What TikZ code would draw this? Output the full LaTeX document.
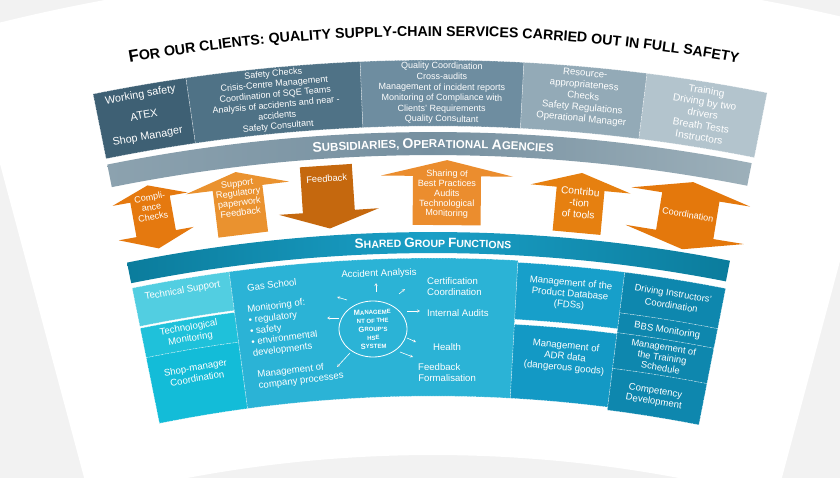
\documentclass[tikz,border=0pt]{standalone}
\usepackage{fontspec}
\setmainfont{Liberation Sans}
\usetikzlibrary{decorations.text,calc,arrows.meta,shapes.geometric}

\definecolor{bgc}{HTML}{F2F2F2}
\definecolor{tA}{HTML}{3E6074}
\definecolor{tB}{HTML}{4F7286}
\definecolor{tC}{HTML}{6E8DA0}
\definecolor{tD}{HTML}{93AAB7}
\definecolor{tE}{HTML}{B3C4CD}
\definecolor{gL}{HTML}{8CA2AF}
\definecolor{gM}{HTML}{7690A0}
\definecolor{gR}{HTML}{9DB0BA}
\definecolor{sE}{HTML}{0B7C9C}
\definecolor{sM}{HTML}{1A9FC6}
\definecolor{lA}{HTML}{52CEE1}
\definecolor{lB}{HTML}{1FC1DA}
\definecolor{lC}{HTML}{13BCD8}
\definecolor{cM}{HTML}{2BB3D6}
\definecolor{fA}{HTML}{179FCA}
\definecolor{fB}{HTML}{1399C5}
\definecolor{rA}{HTML}{0E87AE}
\definecolor{oA}{HTML}{E5790F}
\definecolor{oB}{HTML}{EA922F}
\definecolor{oC}{HTML}{C5680E}
\definecolor{oD}{HTML}{EB8D2E}
\definecolor{oE}{HTML}{E68010}
\definecolor{oF}{HTML}{E4780C}

\newcommand\fansect[5]{\path[#1] ($(C)+({90-(#2)}:#5)$) arc[start angle={90-(#2)}, end angle={90-(#3)}, radius=#5] -- ($(C)+({90-(#3)}:#4)$) arc[start angle={90-(#3)}, end angle={90-(#2)}, radius=#4] -- cycle;}
\newcommand\polnode[5][]{\node[txt,#1,rotate={-(#3)}] (#2) at ($(C)+({90-(#3)}:#4)$) {#5};}
\newcommand\pxnode[5][]{\node[txt,#1,rotate={atan((433-(#3))/(1780-(#4)))}] (#2) at (#3,-#4) {#5};}
\newcommand\tbig{\bfseries\fontsize{17}{17}\selectfont}
\newcommand\tsml{\bfseries\fontsize{14.2}{15}\selectfont}
\newcommand\sbig{\bfseries\fontsize{14}{14}\selectfont}
\newcommand\ssml{\bfseries\fontsize{11.5}{12}\selectfont}
\newcommand\gbig{\bfseries\fontsize{13.5}{14}\selectfont}
\newcommand\gsml{\bfseries\fontsize{10.5}{11}\selectfont}
\newcommand\hbc[1]{{\fontsize{7.5}{7.5}\selectfont #1}}

\tikzset{
  txt/.style={inner sep=0pt, text=white, align=center, font=\fontsize{9.6}{11}\selectfont},
  dense/.style={font=\fontsize{9}{10.6}\selectfont},
  box/.style={draw=white, densely dotted, line width=0.5pt},
  hsear/.style={draw=white, line width=0.6pt, -{Stealth[length=3pt,width=3pt]}}
}

\begin{document}
\begin{tikzpicture}[x=1pt,y=1pt]
\useasboundingbox (0,0) rectangle (840,-478);
\coordinate (C) at (433,-1780);
\fill[bgc] (0,0) rectangle (840,-478);
\fansect{fill=white}{-15}{15}{1325}{1810}

% title
\path[decorate, decoration={text along path, text align=center,
  text={|\tbig|F|\tsml|OR OUR CLIENTS: QUALITY SUPPLY-CHAIN SERVICES CARRIED OUT IN FULL SAFETY}}]
  ($(C)+(112:1744)$) arc[start angle=112, end angle=68, radius=1744];

% top boxes
\fansect{box,fill=tA}{-11.4}{-8.26}{1654}{1720}
\fansect{box,fill=tB}{-8.26}{-2.43}{1654}{1720}
\fansect{box,fill=tC}{-2.43}{3.03}{1654}{1720}
\fansect{box,fill=tD}{3.03}{7.15}{1654}{1720}
\fansect{box,fill=tE}{7.15}{11.2}{1654}{1720}

\polnode[font=\fontsize{10.8}{21}\selectfont]{t1}{-9.85}{1689}{Working safety\\ATEX\\Shop Manager}
\polnode[dense]{t2}{-5.35}{1687}{Safety Checks\\Crisis-Centre Management\\Coordination of SQE Teams\\Analysis of accidents and near -\\accidents\\Safety Consultant}
\polnode[dense]{t3}{0.3}{1687}{Quality Coordination\\Cross-audits\\Management of incident reports\\Monitoring of Compliance with\\Clients' Requirements\\Quality Consultant}
\polnode[font=\fontsize{9.6}{11.4}\selectfont]{t4}{5.1}{1690}{Resource-\\appropriateness\\Checks\\Safety Regulations\\Operational Manager}
\polnode[font=\fontsize{10.2}{11.8}\selectfont]{t5}{9.2}{1688}{Training\\Driving by two\\drivers\\Breath Tests\\Instructors}

% grey band
\fansect{left color=gL, right color=gR, middle color=gM}{-11.4}{11.15}{1625}{1648}
\path[decorate, decoration={text along path, text align=center, text color=white,
  text={|\sbig|S|\ssml|UBSIDIARIES, |\sbig|O|\ssml|PERATIONAL |\sbig|A|\ssml|GENCIES}}]
  ($(C)+(100:1632)$) arc[start angle=100, end angle=80, radius=1632];

% shared band
\fansect{left color=sE, right color=sE, middle color=sM}{-11.4}{11.06}{1527}{1548}
\path[decorate, decoration={text along path, text align=center, text color=white,
  text={|\gbig|S|\gsml|HARED |\gbig|G|\gsml|ROUP |\gbig|F|\gsml|UNCTIONS}}]
  ($(C)+(98:1533)$) arc[start angle=98, end angle=82, radius=1533];

% arrows
\begin{scope}[shift={(C)}, rotate=10.15]
\fill[oA] (-20,1571) -- (-38,1571) -- (0,1556) -- (38,1571) -- (20,1571) -- (20,1606) -- (38,1606) -- (0,1620) -- (-38,1606) -- (-20,1606) -- cycle;
\node[txt, transform shape, font=\fontsize{9}{10}\selectfont] (ar1) at (0,1598) {Compli-\\ance\\Checks};
\end{scope}
\begin{scope}[shift={(C)}, rotate=7]
\fill[oB] (-25,1557) -- (25,1557) -- (25,1604) -- (52,1604) -- (0,1620) -- (-52,1604) -- (-25,1604) -- cycle;
\node[txt, transform shape, font=\fontsize{9.2}{9.8}\selectfont] (ar2) at (0,1594) {Support\\Regulatory\\paperwork\\Feedback};
\end{scope}
\begin{scope}[shift={(C)}, rotate=3.8]
\fill[oC] (-26,1618) -- (26,1618) -- (26,1572) -- (50,1572) -- (0,1555) -- (-50,1572) -- (-26,1572) -- cycle;
\node[txt, transform shape, font=\fontsize{9.3}{10}\selectfont] (ar3) at (0,1605) {Feedback};
\end{scope}
\begin{scope}[shift={(C)}, rotate=-0.5]
\fill[oD] (-34,1555) -- (34,1555) -- (34,1604) -- (66,1604) -- (0,1620) -- (-66,1604) -- (-34,1604) -- cycle;
\node[txt, transform shape, font=\fontsize{9.1}{9.8}\selectfont] (ar4) at (0,1586) {Sharing of\\Best Practices\\Audits\\Technological\\Monitoring};
\end{scope}
\begin{scope}[shift={(C)}, rotate=-5.3]
\fill[oE] (-24,1554) -- (24,1554) -- (24,1598) -- (50,1598) -- (0,1614) -- (-50,1598) -- (-24,1598) -- cycle;
\node[txt, transform shape, font=\fontsize{10.2}{11.5}\selectfont] (ar5) at (0,1584) {Contribu\\-tion\\of tools};
\end{scope}
\begin{scope}[shift={(C)}, rotate=-9.25]
\fill[oF] (-29,1566) -- (-60,1566) -- (0,1551) -- (60,1566) -- (29,1566) -- (29,1604) -- (60,1604) -- (0,1619) -- (-60,1604) -- (-29,1604) -- cycle;
\node[txt, transform shape, font=\fontsize{9.1}{10}\selectfont] (ar6) at (0,1586) {Coordination};
\end{scope}

% lower boxes
\fansect{box,fill=lA}{-11.4}{-7.7}{1483}{1522}
\fansect{box,fill=lB}{-11.4}{-7.7}{1451}{1481}
\fansect{box,fill=lC}{-11.4}{-7.7}{1384}{1451}
\fansect{box,fill=cM}{-7.7}{3.2}{1384}{1522}
\fansect{box,fill=fA}{3.2}{7.25}{1463}{1520}
\fansect{box,fill=fB}{3.2}{7.25}{1384}{1458}
\fansect{box,fill=rA}{7.25}{11.1}{1479}{1520}
\fansect{box,fill=rA}{7.25}{11.1}{1459}{1479}
\fansect{box,fill=rA}{7.25}{11.1}{1423}{1459}
\fansect{box,fill=rA}{7.25}{11.1}{1381}{1423}

\polnode{ts}{-9.55}{1510}{Technical Support}
\polnode{tm}{-9.55}{1467}{Technological\\Monitoring}
\polnode{sm}{-9.55}{1427}{Shop-manager\\Coordination}
\polnode{fds}{5.27}{1492}{Management of the\\Product Database\\(FDSs)}
\polnode{adr}{5.3}{1429}{Management of\\ADR data\\(dangerous goods)}
\polnode[font=\fontsize{9.4}{12}\selectfont]{dic}{9.18}{1500}{Driving Instructors'\\Coordination}
\polnode{bbs}{9.18}{1468}{BBS Monitoring}
\polnode[font=\fontsize{9.4}{10.4}\selectfont]{mts}{9.15}{1441}{Management of\\the Training\\Schedule}
\polnode{cd}{9.1}{1401}{Competency\\Development}

% central box
\pxnode[anchor=west]{gas}{247}{288}{Gas School}
\pxnode[anchor=west, align=left]{mon}{250}{332}{Monitoring of:\\• regulatory\\• safety\\• environmental\\developments}
\pxnode[anchor=west, align=left]{mgt}{258}{381}{Management of\\company processes}
\pxnode{acc}{379}{274}{Accident Analysis}
\pxnode[anchor=west, align=left]{cert}{427}{287}{Certification\\Coordination}
\pxnode[anchor=west]{ia}{427}{313}{Internal Audits}
\pxnode[anchor=west]{hea}{433}{347}{Health}
\pxnode[anchor=west, align=left]{fbf}{418}{373}{Feedback\\Formalisation}

\node[ellipse, draw=white, line width=0.8pt, fill=cM, minimum width=68pt, minimum height=56pt, inner sep=0pt] (hse) at (373,-329) {};
\pxnode[font=\bfseries\fontsize{6}{8.5}\selectfont]{hset}{373}{329}{\hbc{M}ANAGEME\\NT OF THE\\\hbc{G}ROUP'S\\HSE\\\hbc{S}YSTEM}

\draw[hsear] ($(hse.center)+(3,37)$) -- ($(hse.center)+(3,46)$);
\draw[hsear] ($(hse.center)+(26,35)$) -- ($(hse.center)+(32,40)$);
\draw[hsear] ($(hse.center)+(34,18)$) -- ($(hse.center)+(47,18)$);
\draw[hsear] ($(hse.center)+(34,-9)$) -- ($(hse.center)+(43,-13)$);
\draw[hsear] ($(hse.center)+(27,-23)$) -- ($(hse.center)+(40,-28)$);
\draw[hsear] ($(hse.center)+(-23,-24)$) -- ($(hse.center)+(-36,-38)$);
\draw[hsear] ($(hse.center)+(-34,11)$) -- ($(hse.center)+(-46,11)$);
\draw[hsear] ($(hse.center)+(-26,29)$) -- ($(hse.center)+(-36,32)$);
\end{tikzpicture}
\end{document}
